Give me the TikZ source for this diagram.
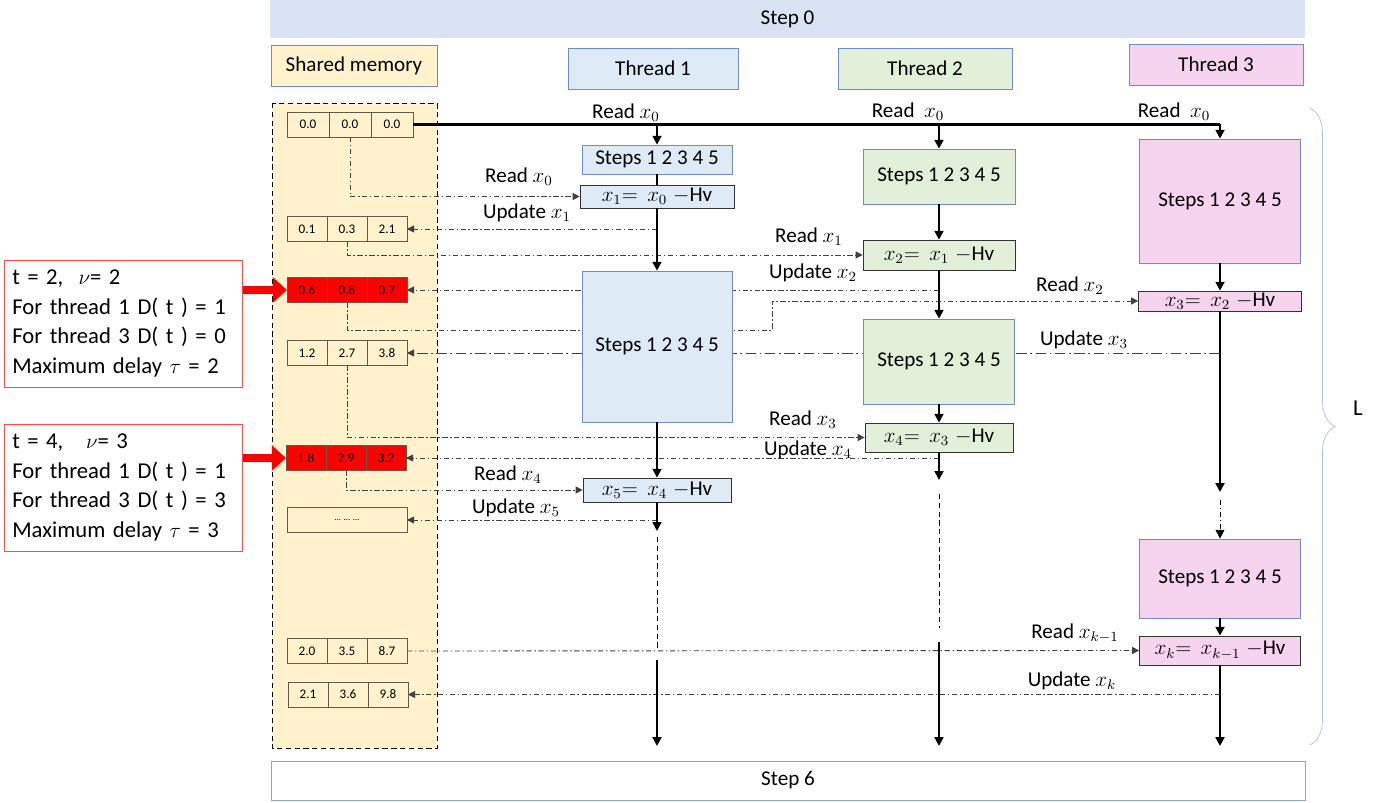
\documentclass[tikz,border=0pt]{standalone}
\usepackage{fontspec}
\setmainfont{Carlito}
\usepackage{tikz}
\usetikzlibrary{arrows.meta,positioning,backgrounds,decorations.pathreplacing}
\definecolor{barblue}{HTML}{DAE3F3}
\definecolor{memfill}{HTML}{FFF2CC}
\definecolor{oneblue}{HTML}{DEEBF7}
\definecolor{twogreen}{HTML}{E2F0D9}
\definecolor{threepink}{HTML}{F6D3EE}
\definecolor{edge}{HTML}{6F8DC4}
\definecolor{bracecol}{HTML}{A9BFE4}
\definecolor{cellrule}{HTML}{5E5A4C}
\definecolor{hotred}{HTML}{FF0000}
\definecolor{noteline}{HTML}{FF4B4B}

\begin{document}
\begin{tikzpicture}[x=0.02cm,y=-0.02cm,font=\fontsize{12}{14}\selectfont,
  bar/.style={fill=barblue,minimum width=20.7cm,minimum height=0.76cm},
  hd/.style={draw=edge,minimum height=0.82cm},
  cell/.style={draw=cellrule,fill=memfill,minimum width=0.8cm,minimum height=0.5cm,inner sep=0pt,outer sep=0pt,font=\fontsize{7.5}{8}\selectfont},
  hot/.style={cell,fill=hotred},
  tb/.style={draw=edge,align=center,inner sep=2pt},
  eq/.style={draw=black!80,inner xsep=1pt,inner ysep=0pt},
  note/.style={draw=noteline,fill=white,minimum width=4.7cm,minimum height=2.54cm,inner xsep=0.15cm,text width=4.45cm,align=left,font=\fontsize{12.9}{16.9}\selectfont},
  lb/.style={inner sep=1pt},
  ar/.style={line width=1.5pt,-{Triangle[length=5pt,width=5pt]}},
  rd/.style={draw=black!75,line width=0.5pt,dash pattern=on 3pt off 1.5pt on 0.8pt off 1.5pt,-{Triangle[length=4pt,width=4pt]}},
  redar/.style={draw=hotred,line width=5pt,-{Triangle[length=8pt,width=14pt]}}]
\useasboundingbox (0,0) rectangle (1390,803);

% header row
\node[bar] (s0) at (787.5,19) {Step 0};
\node[hd,fill=memfill,minimum width=3.32cm] (hmem) at (354,65.5) {Shared memory};
\node[hd,fill=oneblue,minimum width=3.4cm] (h1) at (653,68.5) {Thread 1};
\node[hd,fill=twogreen,minimum width=3.48cm] (h2) at (925,68.5) {Thread 2};
\node[hd,fill=threepink,minimum width=3.48cm] (h3) at (1216,64.5) {Thread 3};

% shared memory rows
\node[cell,minimum width=0.84cm] (m0a) at (308,124.5) {0.0};
\node[cell,minimum width=0.84cm,right=0pt of m0a] (m0b) {0.0};
\node[cell,minimum width=0.84cm,right=0pt of m0b] (m0c) {0.0};
\node[cell] (m1a) at (307,229) {0.1}; \node[cell,right=0pt of m1a] (m1b) {0.3}; \node[cell,right=0pt of m1b] (m1c) {2.1};
\node[hot] (m2a) at (307,290) {0.6}; \node[hot,right=0pt of m2a] (m2b) {0.8}; \node[hot,right=0pt of m2b] (m2c) {0.7};
\node[cell] (m3a) at (307,353) {1.2}; \node[cell,right=0pt of m3a] (m3b) {2.7}; \node[cell,right=0pt of m3b] (m3c) {3.8};
\node[hot] (m4a) at (306,458) {1.8}; \node[hot,right=0pt of m4a] (m4b) {2.9}; \node[hot,right=0pt of m4b] (m4c) {3.2};
\node[cell,minimum width=2.4cm] (m5) at (347,520) {\fontsize{5}{6}\selectfont ... ... ...};
\node[cell] (m6a) at (307,651) {2.0}; \node[cell,right=0pt of m6a] (m6b) {3.5}; \node[cell,right=0pt of m6b] (m6c) {8.7};
\node[cell] (m7a) at (308,694.5) {2.1}; \node[cell,right=0pt of m7a] (m7b) {3.6}; \node[cell,right=0pt of m7b] (m7c) {9.8};

% thread 1
\node[tb,fill=oneblue,minimum width=3cm,minimum height=0.58cm] (a1) at (657,159.5) {Steps 1 2 3 4 5};
\node[eq,fill=oneblue,minimum width=3.08cm,minimum height=0.46cm] (q1) at (657,196.5) {$x_1{=}\;\,x_0\;{-}$Hv};
\node[tb,fill=oneblue,minimum width=3cm,minimum height=3.02cm] (b1) at (657,346.5) {Steps 1 2 3 4 5};
\node[eq,fill=oneblue,minimum width=2.96cm,minimum height=0.48cm] (q5) at (657,490) {$x_5{=}\;\,x_4\;{-}$Hv};

% thread 2
\node[tb,fill=twogreen,minimum width=3.04cm,minimum height=1.1cm] (a2) at (939,176.5) {Steps 1 2 3 4 5};
\node[eq,fill=twogreen,minimum width=3.04cm,minimum height=0.6cm] (q2) at (939,255) {$x_2{=}\;\,x_1\;{-}$Hv};
\node[tb,fill=twogreen,minimum width=3.02cm,minimum height=1.7cm] (b2) at (939,361.5) {Steps 1 2 3 4 5};
\node[eq,fill=twogreen,minimum width=2.96cm,minimum height=0.58cm] (q4) at (939,437.5) {$x_4{=}\;\,x_3\;{-}$Hv};

% thread 3
\node[tb,fill=threepink,minimum width=3.22cm,minimum height=2.48cm] (a3) at (1220,201) {Steps 1 2 3 4 5};
\node[eq,fill=threepink,minimum width=3.26cm,minimum height=0.4cm] (q3) at (1220,301) {$x_3{=}\;\,x_2\;{-}$Hv};
\node[tb,fill=threepink,minimum width=3.22cm,minimum height=1.58cm] (b3) at (1220,578.5) {Steps 1 2 3 4 5};
\node[eq,fill=threepink,minimum width=3.22cm,minimum height=0.58cm] (qk) at (1220,650.5) {$x_k{=}\;\,x_{k-1}\;{-}$Hv};

\node[draw=edge!80,fill=white,minimum width=20.68cm,minimum height=0.78cm] (s6) at (788,780.5) {Step 6};

% notes on the left
\node[note] (n1) at (123.5,323.5) {t = 2,\ \ $\nu$= 2\\For thread 1 D( t ) = 1\\For thread 3 D( t ) = 0\\Maximum delay $\tau$ = 2};
\node[note] (n2) at (123.5,487.5) {t = 4,\ \ \ $\nu$= 3\\For thread 1 D( t ) = 1\\For thread 3 D( t ) = 3\\Maximum delay $\tau$ = 3};
\draw[redar] (n1.east |- m2a.west) -- (m2a.west);
\draw[redar] (n2.east |- m4a.west) -- (m4a.west);

% free ends of the thread lines
\coordinate (t1a) at (657,531); \coordinate (t1b) at (657,537); \coordinate (t1c) at (657,648);
\coordinate (t1d) at (657,660); \coordinate (t1e) at (657,746);
\coordinate (t2a) at (939,480); \coordinate (t2b) at (939,494); \coordinate (t2c) at (939,628);
\coordinate (t2d) at (939,642); \coordinate (t2e) at (939,746);
\coordinate (t3a) at (1220,492); \coordinate (t3b) at (1220,500); \coordinate (t3e) at (1220,746);

\begin{scope}[on background layer]
\draw[densely dashed,fill=memfill] (272,103) rectangle (437,748);
% reads and updates
\draw[rd] (m0b.south) |- (q1.west);
\draw[rd] (q1.south |- m1c.east) -- (m1c.east);
\draw[rd] (m1b.south) |- (q2.west);
\draw[rd] (q2.south |- m2c.east) -- (m2c.east);
\draw[rd] (m2b.south) |- (772,330) |- (q3.west);
\draw[rd,dash pattern=on 6pt off 2pt on 1pt off 2pt] (q3.south |- m3c.east) -- (m3c.east);
\draw[rd] (m3b.south) |- (q4.west);
\draw[rd] (q4.south |- m4c.east) -- (m4c.east);
\draw[rd] (m4b.south) |- (q5.west);
\draw[rd] (q5.south |- m5.east) -- (m5.east);
\draw[rd] (m6c.east) -- (qk.west);
\draw[rd] (qk.south |- m7c.east) -- (m7c.east);
\end{scope}

% thread lines
\draw[line width=1.5pt] (m0c.east) -- (m0c.east -| a3.north);
\draw[ar] (m0c.east -| a1.north) -- (a1.north);
\draw[ar] (m0c.east -| a2.north) -- (a2.north);
\draw[ar] (m0c.east -| a3.north) -- (a3.north);
\draw[line width=1.5pt] (a1) -- (q1);
\draw[ar] (q1) -- (b1);
\draw[ar] (b1) -- (q5);
\draw[ar,line width=1pt] (q5) -- (t1a);
\draw[densely dashed,thin] (t1b) -- (t1c);
\draw[ar] (t1d) -- (t1e);
\draw[ar] (a2) -- (q2);
\draw[ar] (q2) -- (b2);
\draw[ar] (b2) -- (q4);
\draw[ar,line width=1pt] (q4) -- (t2a);
\draw[densely dashed,thin] (t2b) -- (t2c);
\draw[ar] (t2d) -- (t2e);
\draw[ar] (a3) -- (q3);
\draw[ar] (q3) -- (t3a);
\draw[rd,draw=black,-{Triangle[length=5pt,width=5pt]}] (t3b) -- (b3);
\draw[ar] (b3) -- (qk);
\draw[ar] (qk) -- (t3e);

% labels
\node[lb] (l0a) at (626,113) {Read $x_0$};
\node[lb] (l0b) at (908,112) {Read\ \ $x_0$};
\node[lb] (l0c) at (1174,112) {Read\ \ $x_0$};
\node[lb] (l1r) at (519,177) {Read $x_0$};
\node[lb] (l1u) at (527,213) {Update $x_1$};
\node[lb] (l2r) at (809,237) {Read $x_1$};
\node[lb] (l2u) at (813,273) {Update $x_2$};
\node[lb] (l3r) at (1070,286) {Read $x_2$};
\node[lb] (l3u) at (1084,340) {Update $x_3$};
\node[lb] (l4r) at (803,420) {Read $x_3$};
\node[lb] (l4u) at (808,450) {Update $x_4$};
\node[lb] (l5r) at (508,475) {Read $x_4$};
\node[lb] (l5u) at (516,508) {Update $x_5$};
\node[lb] (lkr) at (1075,633) {Read $x_{k-1}$};
\node[lb] (lku) at (1072,681) {Update $x_k$};

% span of the loop
\draw[bracecol,decorate,decoration={brace,amplitude=0.5cm}] (1310,108) -- (1310,745);
\node[font=\fontsize{13}{15}\selectfont] (lL) at (1358,408) {L};
\end{tikzpicture}
\end{document}
